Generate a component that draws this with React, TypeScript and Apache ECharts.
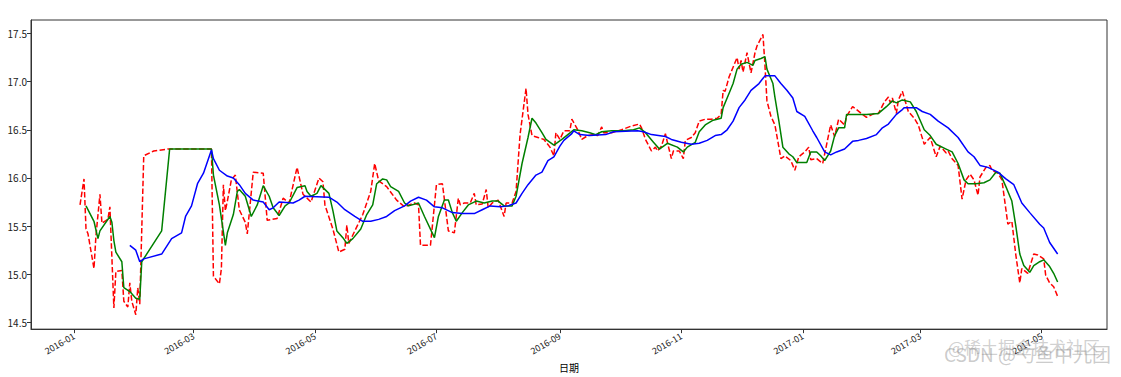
import React, { useEffect, useRef } from "react";
import * as echarts from "echarts";

// Close price (red dashed)
const closeSeries: [string, number][] = [
  ["2016-01-04", 15.72], ["2016-01-06", 15.99], ["2016-01-07", 15.47], ["2016-01-08", 15.42],
  ["2016-01-11", 15.06], ["2016-01-12", 15.4], ["2016-01-14", 15.83], ["2016-01-15", 15.53],
  ["2016-01-18", 15.57], ["2016-01-19", 15.7], ["2016-01-21", 14.65], ["2016-01-22", 15.03],
  ["2016-01-25", 15.04], ["2016-01-26", 14.72], ["2016-01-28", 14.66], ["2016-01-29", 14.91],
  ["2016-01-30", 14.72], ["2016-02-01", 14.58], ["2016-02-02", 14.86], ["2016-02-03", 14.69],
  ["2016-02-05", 16.23], ["2016-02-10", 16.28], ["2016-02-17", 16.3], ["2016-03-10", 16.3],
  ["2016-03-11", 14.98], ["2016-03-14", 14.9], ["2016-03-15", 15.06], ["2016-03-16", 15.93],
  ["2016-03-17", 15.66], ["2016-03-18", 15.76], ["2016-03-20", 15.98], ["2016-03-22", 16.03],
  ["2016-03-24", 15.67], ["2016-03-27", 15.54], ["2016-03-28", 15.42], ["2016-03-31", 16.06],
  ["2016-04-05", 16.05], ["2016-04-07", 15.56], ["2016-04-12", 15.58], ["2016-04-15", 15.79],
  ["2016-04-18", 15.74], ["2016-04-22", 16.11], ["2016-04-25", 15.83], ["2016-04-29", 15.75],
  ["2016-05-03", 16.0], ["2016-05-05", 15.96], ["2016-05-06", 15.72], ["2016-05-10", 15.47],
  ["2016-05-13", 15.23], ["2016-05-16", 15.26], ["2016-05-17", 15.51], ["2016-05-18", 15.32],
  ["2016-05-21", 15.45], ["2016-05-25", 15.62], ["2016-05-29", 15.86], ["2016-05-31", 16.15],
  ["2016-06-02", 15.97], ["2016-06-06", 15.91], ["2016-06-11", 15.77], ["2016-06-15", 15.7],
  ["2016-06-20", 15.74], ["2016-06-22", 15.72], ["2016-06-23", 15.3], ["2016-06-28", 15.3],
  ["2016-07-01", 15.93], ["2016-07-04", 15.94], ["2016-07-07", 15.45], ["2016-07-10", 15.43],
  ["2016-07-12", 15.79], ["2016-07-13", 15.72], ["2016-07-15", 15.74], ["2016-07-18", 15.74],
  ["2016-07-20", 15.84], ["2016-07-21", 15.72], ["2016-07-24", 15.73], ["2016-07-26", 15.88],
  ["2016-07-27", 15.69], ["2016-07-29", 15.74], ["2016-08-01", 15.77], ["2016-08-04", 15.6],
  ["2016-08-05", 15.74], ["2016-08-08", 15.74], ["2016-08-10", 15.86], ["2016-08-12", 16.45],
  ["2016-08-15", 16.93], ["2016-08-16", 16.66], ["2016-08-18", 16.44], ["2016-08-21", 16.42],
  ["2016-08-24", 16.4], ["2016-08-27", 16.32], ["2016-08-29", 16.23], ["2016-08-30", 16.47],
  ["2016-09-01", 16.4], ["2016-09-03", 16.49], ["2016-09-06", 16.49], ["2016-09-07", 16.61],
  ["2016-09-10", 16.5], ["2016-09-12", 16.4], ["2016-09-15", 16.44], ["2016-09-18", 16.45],
  ["2016-09-20", 16.44], ["2016-09-22", 16.53], ["2016-09-23", 16.47], ["2016-09-27", 16.47],
  ["2016-10-02", 16.5], ["2016-10-07", 16.54], ["2016-10-11", 16.56], ["2016-10-12", 16.52],
  ["2016-10-14", 16.4], ["2016-10-17", 16.28], ["2016-10-19", 16.32], ["2016-10-20", 16.28],
  ["2016-10-22", 16.33], ["2016-10-24", 16.46], ["2016-10-25", 16.37], ["2016-10-27", 16.2],
  ["2016-10-28", 16.28], ["2016-10-31", 16.28], ["2016-11-02", 16.2], ["2016-11-03", 16.39],
  ["2016-11-06", 16.42], ["2016-11-08", 16.47], ["2016-11-10", 16.59], ["2016-11-13", 16.61],
  ["2016-11-16", 16.61], ["2016-11-19", 16.62], ["2016-11-21", 16.66], ["2016-11-22", 16.91],
  ["2016-11-23", 16.9], ["2016-11-25", 17.05], ["2016-11-27", 17.15], ["2016-11-29", 17.25],
  ["2016-11-30", 17.13], ["2016-12-01", 17.22], ["2016-12-02", 17.1], ["2016-12-04", 17.3],
  ["2016-12-06", 17.09], ["2016-12-08", 17.3], ["2016-12-09", 17.37], ["2016-12-12", 17.49],
  ["2016-12-13", 17.17], ["2016-12-14", 16.8], ["2016-12-16", 16.64], ["2016-12-18", 16.55],
  ["2016-12-20", 16.32], ["2016-12-21", 16.2], ["2016-12-23", 16.23], ["2016-12-26", 16.18],
  ["2016-12-28", 16.08], ["2016-12-30", 16.22], ["2017-01-02", 16.27], ["2017-01-04", 16.32],
  ["2017-01-05", 16.19], ["2017-01-08", 16.2], ["2017-01-11", 16.15], ["2017-01-14", 16.45],
  ["2017-01-15", 16.55], ["2017-01-17", 16.43], ["2017-01-19", 16.61], ["2017-01-22", 16.55],
  ["2017-01-23", 16.64], ["2017-01-26", 16.74], ["2017-01-28", 16.71], ["2017-01-31", 16.66],
  ["2017-02-02", 16.63], ["2017-02-06", 16.67], ["2017-02-08", 16.67], ["2017-02-11", 16.79],
  ["2017-02-13", 16.84], ["2017-02-14", 16.78], ["2017-02-15", 16.83], ["2017-02-17", 16.67],
  ["2017-02-18", 16.81], ["2017-02-20", 16.9], ["2017-02-21", 16.83], ["2017-02-23", 16.69],
  ["2017-02-26", 16.62], ["2017-02-28", 16.55], ["2017-03-03", 16.35], ["2017-03-06", 16.42],
  ["2017-03-09", 16.22], ["2017-03-11", 16.33], ["2017-03-14", 16.26], ["2017-03-15", 16.28],
  ["2017-03-17", 16.2], ["2017-03-20", 16.13], ["2017-03-22", 15.78], ["2017-03-24", 15.98],
  ["2017-03-26", 16.04], ["2017-03-28", 15.98], ["2017-03-30", 15.82], ["2017-03-31", 16.01],
  ["2017-04-03", 16.11], ["2017-04-05", 16.13], ["2017-04-06", 16.08], ["2017-04-09", 16.05],
  ["2017-04-11", 15.98], ["2017-04-14", 15.52], ["2017-04-16", 15.55], ["2017-04-18", 15.2],
  ["2017-04-20", 14.91], ["2017-04-21", 15.06], ["2017-04-24", 15.01], ["2017-04-27", 15.21],
  ["2017-04-29", 15.2], ["2017-05-02", 15.16], ["2017-05-03", 14.99], ["2017-05-05", 14.91],
  ["2017-05-07", 14.87], ["2017-05-09", 14.77],
];

// Short moving average (green)
const ma5Series: [string, number][] = [
  ["2016-01-07", 15.71], ["2016-01-11", 15.55], ["2016-01-13", 15.37], ["2016-01-14", 15.45],
  ["2016-01-19", 15.6], ["2016-01-20", 15.54], ["2016-01-21", 15.35], ["2016-01-22", 15.23],
  ["2016-01-25", 15.13], ["2016-01-26", 14.86], ["2016-01-29", 14.82], ["2016-02-01", 14.75],
  ["2016-02-03", 14.74], ["2016-02-04", 15.13], ["2016-02-14", 15.45], ["2016-02-18", 16.3],
  ["2016-03-10", 16.3], ["2016-03-11", 16.03], ["2016-03-14", 15.72], ["2016-03-17", 15.3],
  ["2016-03-18", 15.43], ["2016-03-21", 15.62], ["2016-03-23", 15.86], ["2016-03-24", 15.88],
  ["2016-03-27", 15.81], ["2016-03-30", 15.6], ["2016-04-02", 15.72], ["2016-04-05", 15.92],
  ["2016-04-08", 15.81], ["2016-04-10", 15.69], ["2016-04-13", 15.61], ["2016-04-16", 15.71],
  ["2016-04-18", 15.74], ["2016-04-22", 15.9], ["2016-04-26", 15.92], ["2016-04-27", 15.86],
  ["2016-04-29", 15.81], ["2016-05-02", 15.84], ["2016-05-04", 15.92], ["2016-05-08", 15.84],
  ["2016-05-10", 15.66], ["2016-05-12", 15.45], ["2016-05-15", 15.38], ["2016-05-17", 15.32],
  ["2016-05-20", 15.37], ["2016-05-24", 15.47], ["2016-05-27", 15.62], ["2016-05-30", 15.72],
  ["2016-06-01", 15.94], ["2016-06-04", 15.99], ["2016-06-06", 15.98], ["2016-06-08", 15.91],
  ["2016-06-12", 15.86], ["2016-06-15", 15.74], ["2016-06-17", 15.71], ["2016-06-22", 15.74],
  ["2016-06-25", 15.6], ["2016-06-30", 15.38], ["2016-07-02", 15.6], ["2016-07-05", 15.77],
  ["2016-07-07", 15.77], ["2016-07-09", 15.64], ["2016-07-11", 15.55], ["2016-07-14", 15.64],
  ["2016-07-17", 15.72], ["2016-07-21", 15.76], ["2016-07-25", 15.74], ["2016-07-29", 15.76],
  ["2016-08-01", 15.76], ["2016-08-04", 15.71], ["2016-08-08", 15.71], ["2016-08-10", 15.81],
  ["2016-08-13", 16.15], ["2016-08-16", 16.42], ["2016-08-18", 16.62], ["2016-08-20", 16.57],
  ["2016-08-23", 16.47], ["2016-08-25", 16.4], ["2016-08-29", 16.34], ["2016-09-02", 16.4],
  ["2016-09-05", 16.45], ["2016-09-08", 16.5], ["2016-09-12", 16.49], ["2016-09-16", 16.47],
  ["2016-09-19", 16.45], ["2016-09-22", 16.48], ["2016-09-27", 16.49], ["2016-10-03", 16.49],
  ["2016-10-08", 16.5], ["2016-10-11", 16.52], ["2016-10-14", 16.47], ["2016-10-18", 16.37],
  ["2016-10-21", 16.3], ["2016-10-25", 16.36], ["2016-10-30", 16.32], ["2016-11-02", 16.27],
  ["2016-11-04", 16.32], ["2016-11-08", 16.37], ["2016-11-10", 16.48], ["2016-11-13", 16.55],
  ["2016-11-17", 16.6], ["2016-11-21", 16.62], ["2016-11-22", 16.73], ["2016-11-25", 16.88],
  ["2016-11-27", 16.98], ["2016-11-29", 17.13], ["2016-12-01", 17.18], ["2016-12-04", 17.2],
  ["2016-12-06", 17.18], ["2016-12-07", 17.17], ["2016-12-08", 17.22], ["2016-12-11", 17.24],
  ["2016-12-13", 17.26], ["2016-12-14", 17.13], ["2016-12-17", 16.98], ["2016-12-18", 16.84],
  ["2016-12-20", 16.59], ["2016-12-22", 16.32], ["2016-12-25", 16.25], ["2016-12-27", 16.22],
  ["2016-12-29", 16.16], ["2017-01-03", 16.16], ["2017-01-05", 16.27], ["2017-01-08", 16.27],
  ["2017-01-10", 16.23], ["2017-01-12", 16.18], ["2017-01-15", 16.28], ["2017-01-17", 16.44],
  ["2017-01-19", 16.52], ["2017-01-22", 16.52], ["2017-01-23", 16.66], ["2017-02-02", 16.66],
  ["2017-02-08", 16.67], ["2017-02-12", 16.74], ["2017-02-15", 16.8], ["2017-02-17", 16.78],
  ["2017-02-20", 16.81], ["2017-02-24", 16.79], ["2017-02-27", 16.69], ["2017-03-03", 16.5],
  ["2017-03-06", 16.44], ["2017-03-09", 16.35], ["2017-03-14", 16.3], ["2017-03-17", 16.27],
  ["2017-03-20", 16.15], ["2017-03-23", 15.98], ["2017-03-25", 15.94], ["2017-03-29", 15.94],
  ["2017-04-02", 15.95], ["2017-04-05", 15.98], ["2017-04-08", 16.06], ["2017-04-10", 16.05],
  ["2017-04-13", 15.91], ["2017-04-16", 15.76], ["2017-04-18", 15.5], ["2017-04-20", 15.21],
  ["2017-04-22", 15.09], ["2017-04-25", 15.02], ["2017-04-27", 15.09], ["2017-04-30", 15.13],
  ["2017-05-02", 15.15], ["2017-05-05", 15.08], ["2017-05-07", 15.01], ["2017-05-09", 14.92],
];

// Long moving average (blue)
const ma20Series: [string, number][] = [
  ["2016-01-29", 15.3], ["2016-02-01", 15.25], ["2016-02-03", 15.13], ["2016-02-05", 15.16],
  ["2016-02-14", 15.21], ["2016-02-19", 15.37], ["2016-02-24", 15.43], ["2016-02-26", 15.6],
  ["2016-02-29", 15.71], ["2016-03-03", 15.94], ["2016-03-06", 16.05], ["2016-03-10", 16.29],
  ["2016-03-11", 16.2], ["2016-03-14", 16.08], ["2016-03-18", 16.02], ["2016-03-21", 16.0],
  ["2016-03-24", 15.93], ["2016-03-27", 15.84], ["2016-03-31", 15.77], ["2016-04-05", 15.75],
  ["2016-04-08", 15.67], ["2016-04-10", 15.69], ["2016-04-13", 15.75], ["2016-04-20", 15.74],
  ["2016-04-23", 15.77], ["2016-04-26", 15.81], ["2016-05-08", 15.8], ["2016-05-12", 15.75],
  ["2016-05-16", 15.67], ["2016-05-21", 15.6], ["2016-05-25", 15.55], ["2016-05-29", 15.55],
  ["2016-06-02", 15.57], ["2016-06-06", 15.6], ["2016-06-10", 15.66], ["2016-06-15", 15.71],
  ["2016-06-18", 15.76], ["2016-06-22", 15.8], ["2016-06-26", 15.77], ["2016-06-30", 15.7],
  ["2016-07-04", 15.69], ["2016-07-09", 15.64], ["2016-07-14", 15.63], ["2016-07-20", 15.63],
  ["2016-07-24", 15.67], ["2016-07-28", 15.71], ["2016-08-02", 15.7], ["2016-08-06", 15.71],
  ["2016-08-10", 15.74], ["2016-08-13", 15.84], ["2016-08-16", 15.93], ["2016-08-20", 16.03],
  ["2016-08-23", 16.06], ["2016-08-26", 16.18], ["2016-08-29", 16.22], ["2016-09-01", 16.33],
  ["2016-09-03", 16.39], ["2016-09-07", 16.46], ["2016-09-08", 16.49], ["2016-09-11", 16.45],
  ["2016-09-16", 16.44], ["2016-09-24", 16.45], ["2016-09-28", 16.48], ["2016-10-10", 16.49],
  ["2016-10-13", 16.48], ["2016-10-17", 16.45], ["2016-10-24", 16.43], ["2016-10-27", 16.4],
  ["2016-11-01", 16.37], ["2016-11-06", 16.35], ["2016-11-10", 16.36], ["2016-11-14", 16.39],
  ["2016-11-18", 16.44], ["2016-11-21", 16.45], ["2016-11-24", 16.5], ["2016-11-27", 16.59],
  ["2016-11-30", 16.73], ["2016-12-03", 16.81], ["2016-12-06", 16.91], ["2016-12-10", 16.98],
  ["2016-12-13", 17.06], ["2016-12-18", 17.06], ["2016-12-21", 16.98], ["2016-12-24", 16.91],
  ["2016-12-27", 16.83], ["2016-12-29", 16.69], ["2017-01-02", 16.64], ["2017-01-06", 16.49],
  ["2017-01-08", 16.42], ["2017-01-12", 16.27], ["2017-01-15", 16.24], ["2017-01-18", 16.27],
  ["2017-01-22", 16.3], ["2017-01-26", 16.38], ["2017-01-29", 16.39], ["2017-02-02", 16.41],
  ["2017-02-07", 16.45], ["2017-02-10", 16.52], ["2017-02-13", 16.56], ["2017-02-17", 16.66],
  ["2017-02-20", 16.71], ["2017-02-21", 16.73], ["2017-02-27", 16.73], ["2017-03-02", 16.69],
  ["2017-03-06", 16.66], ["2017-03-10", 16.59], ["2017-03-15", 16.52], ["2017-03-20", 16.42],
  ["2017-03-25", 16.27], ["2017-03-28", 16.22], ["2017-03-31", 16.13], ["2017-04-04", 16.11],
  ["2017-04-09", 16.06], ["2017-04-13", 15.99], ["2017-04-17", 15.93], ["2017-04-21", 15.74],
  ["2017-04-25", 15.64], ["2017-04-30", 15.52], ["2017-05-02", 15.48], ["2017-05-05", 15.33],
  ["2017-05-09", 15.21],
];

const xTickMonths = ["2016-01", "2016-03", "2016-05", "2016-07", "2016-09", "2016-11", "2017-01", "2017-03", "2017-05"];
const yTickValues = [14.5, 15.0, 15.5, 16.0, 16.5, 17.0, 17.5];
const xAxisTitle = "日期";

const FONT = '"Noto Sans CJK SC", "DejaVu Sans", sans-serif';

const ts = (d: string) => new Date(d + "T00:00:00").getTime();
const toPoints = (s: [string, number][]) => s.map(([d, v]) => [ts(d), v]);

export default function App() {
  const ref = useRef<HTMLDivElement>(null);

  useEffect(() => {
    if (!ref.current) return;
    const chart = echarts.init(ref.current, undefined, { renderer: "svg" });
    const xTicks = xTickMonths.map((m) => ts(m + "-01"));
    chart.setOption({
      animation: false,
      backgroundColor: "#ffffff",
      grid: {
        left: 31,
        top: 20,
        right: 14,
        bottom: 42,
        show: true,
        borderColor: "#333",
        borderWidth: 1,
        backgroundColor: "transparent",
      },
      xAxis: {
        type: "value",
        min: new Date("2015-12-10T09:00:00").getTime(),
        max: new Date("2017-06-02T19:00:00").getTime(),
        name: xAxisTitle,
        nameLocation: "middle",
        nameGap: 28,
        nameTextStyle: { color: "#000", fontSize: 10, fontFamily: FONT },
        axisLine: { show: true, onZero: false, lineStyle: { color: "#333", width: 1 } },
        axisTick: { show: true, length: 4, lineStyle: { color: "#333" }, customValues: xTicks },
        splitLine: { show: false },
        axisLabel: {
          customValues: xTicks,
          rotate: 30,
          margin: 6,
          fontSize: 9,
          color: "#222",
          fontFamily: FONT,
          hideOverlap: false,
          showMinLabel: true,
          showMaxLabel: true,
          formatter: (v: number) => {
            const d = new Date(v);
            return `${d.getFullYear()}-${String(d.getMonth() + 1).padStart(2, "0")}`;
          },
        },
      },
      yAxis: {
        type: "value",
        min: 14.43,
        max: 17.64,
        axisLine: { show: true, lineStyle: { color: "#333", width: 1 } },
        axisTick: { show: true, length: 4, lineStyle: { color: "#333" }, customValues: yTickValues },
        splitLine: { show: false },
        axisLabel: {
          customValues: yTickValues,
          margin: 4,
          fontSize: 10,
          color: "#222",
          fontFamily: FONT,
          formatter: (v: number) => v.toFixed(1),
        },
      },
      series: [
        {
          type: "line",
          data: toPoints(closeSeries),
          showSymbol: false,
          symbol: "none",
          lineStyle: { color: "#ff0000", width: 1.5, type: [5.5, 2.4] },
          z: 2,
        },
        {
          type: "line",
          data: toPoints(ma5Series),
          showSymbol: false,
          symbol: "none",
          lineStyle: { color: "#008000", width: 1.5 },
          z: 3,
        },
        {
          type: "line",
          data: toPoints(ma20Series),
          showSymbol: false,
          symbol: "none",
          lineStyle: { color: "#0000ff", width: 1.5 },
          z: 4,
        },
      ],
      graphic: [
        {
          type: "text",
          left: 948,
          top: 338,
          z: 100,
          style: { text: "@稀土掘金技术社区", fill: "rgba(170,170,170,0.55)", font: `17px ${FONT}` },
        },
        {
          type: "text",
          left: 944,
          top: 344,
          z: 100,
          style: { text: "CSDN @勺鱼中九团", fill: "rgba(140,140,140,0.45)", font: `19px ${FONT}` },
        },
      ],
    });
    return () => chart.dispose();
  }, []);

  return (
    <div
      ref={ref}
      style={{ position: "fixed", left: 0, top: 0, width: 1121, height: 377, background: "#fff" }}
    />
  );
}
